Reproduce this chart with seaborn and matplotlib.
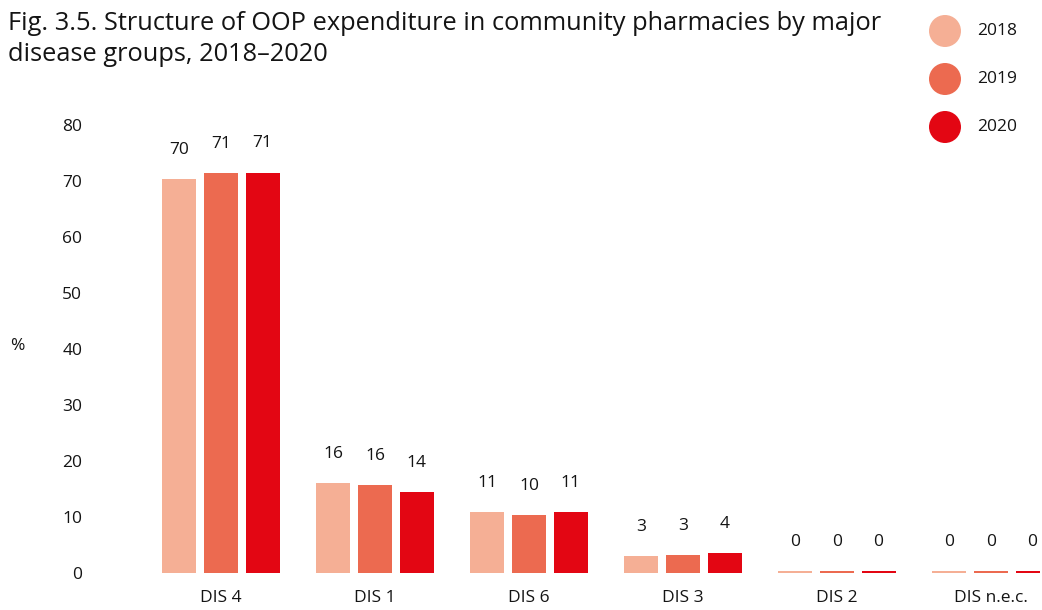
import matplotlib
matplotlib.use("Agg")
import matplotlib.pyplot as plt
from matplotlib.patches import Circle
import seaborn as sns
import pandas as pd

# Share of out-of-pocket spending by disease group (%)
groups = ["DIS 4", "DIS 1", "DIS 6", "DIS 3", "DIS 2", "DIS n.e.c."]
years = ["2018", "2019", "2020"]
share_2018 = [70.4, 16.1, 10.9, 3.0, 0.3, 0.3]
share_2019 = [71.4, 15.7, 10.4, 3.2, 0.3, 0.3]
share_2020 = [71.49, 14.4, 10.9, 3.6, 0.3, 0.3]
colors = ["#F5AF95", "#EC6A50", "#E30613"]
y_ticks = [0, 10, 20, 30, 40, 50, 60, 70, 80]

rows = []
for yr, vals in zip(years, [share_2018, share_2019, share_2020]):
    for g, v in zip(groups, vals):
        rows.append({"group": g, "year": yr, "share": v})
df = pd.DataFrame(rows)

sns.set_theme(style="white")
plt.rcParams["font.family"] = ["Open Sans", "DejaVu Sans"]

W, H = 1042, 610
fig = plt.figure(figsize=(W / 100, H / 100), dpi=100)

# axes placed in pixel terms: zero line at y=573, 5.6 px per percent
ax_left, ax_right = 144, 1040
y0, ymax = 573, 85
ax_top = y0 - ymax * 5.6
ax = fig.add_axes([ax_left / W, (H - y0) / H, (ax_right - ax_left) / W, (y0 - ax_top) / H])

sns.barplot(data=df, x="group", y="share", hue="year", order=groups,
            hue_order=years, palette=colors, width=0.81, gap=0.185,
            saturation=1, legend=False, linewidth=0, ax=ax)

ax.set_xlim(-0.5, (ax_right - 221) / 154)
ax.set_ylim(0, ymax)
ax.set_yticks(y_ticks)
ax.set_yticklabels([str(t) for t in y_ticks], fontsize=12.5, color="#141414")
ax.tick_params(axis="y", length=0, pad=44.5)
ax.tick_params(axis="x", length=0, pad=12, labelsize=12.5, labelcolor="#141414")
ax.set_xlabel("")
ax.set_ylabel("")
for s in ax.spines.values():
    s.set_visible(False)
ax.grid(False)

# value labels above each bar
for container in ax.containers:
    for bar in container:
        h = bar.get_height()
        ax.annotate(f"{round(h):d}", (bar.get_x() + bar.get_width() / 2, h),
                    xytext=(0, 21), textcoords="offset points",
                    ha="center", va="center", fontsize=12.5, color="#141414")

fig.text(17 / W, 1 - 346 / H, "%", fontsize=12.5, color="#141414",
         ha="center", va="center")

fig.text(8 / W, 1 - 11 / H,
         "Fig. 3.5. Structure of OOP expenditure in community pharmacies by major\n"
         "disease groups, 2018\u20132020",
         fontsize=18.3, color="#141414", ha="left", va="top", linespacing=1.32)

# legend: filled circles (drawn in pixel units) with year labels
for i, (yr, c) in enumerate(zip(years, colors)):
    cy = 31 + 48 * i
    fig.patches.append(Circle((945, H - cy), 16, color=c, ec="none",
                              transform=None))
    fig.text(977 / W, 1 - cy / H, yr, fontsize=12.5, color="#141414",
             ha="left", va="center")

fig.savefig("out.png", dpi=100)
